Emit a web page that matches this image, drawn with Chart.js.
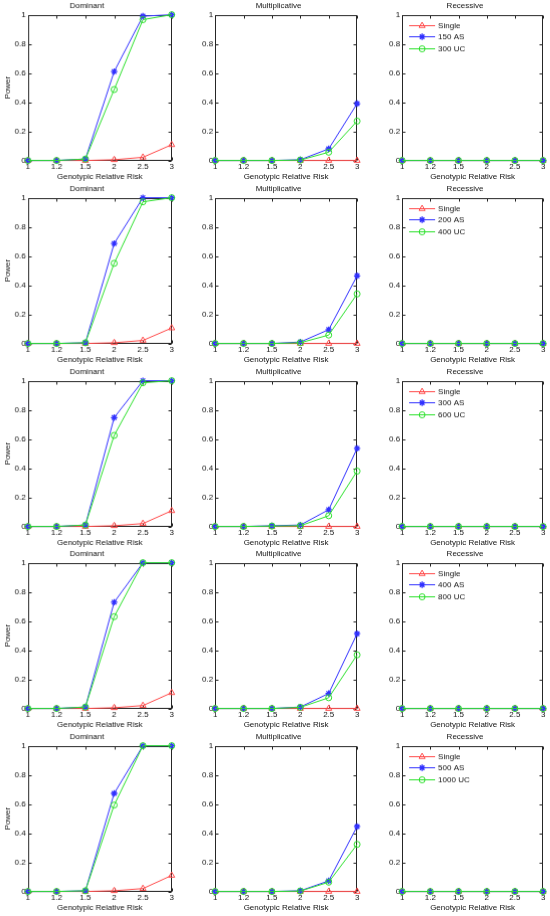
<!DOCTYPE html>
<html><head><meta charset="utf-8">
<script src="https://cdn.jsdelivr.net/npm/chart.js@4/dist/chart.umd.min.js"></script>
<style>
html,body{margin:0;padding:0;background:#fff;width:550px;height:916px;overflow:hidden;}
#wrap{position:relative;width:550px;height:916px;overflow:hidden;}
#wrap canvas{position:absolute;}
</style></head><body><div id="wrap"></div>
<script>
// ---- data ----
const grr = ['1','1.2','1.5','2','2.5','3'];
const yTicks = ['0','0.2','0.4','0.6','0.8','1'];
const models = ['Dominant','Multiplicative','Recessive'];
const xTitle = 'Genotypic Relative Risk';
const yTitle = 'Power';
const singleLabel = 'Single';
const asLabels = ['150 AS','200 AS','300 AS','400 AS','500 AS'];
const ucLabels = ['300 UC','400 UC','600 UC','800 UC','1000 UC'];

const domSingle = [
  [0,0,0,0.005,0.022,0.108],
  [0,0,0,0.005,0.021,0.106],
  [0,0,0,0.005,0.020,0.108],
  [0,0,0,0.005,0.020,0.108],
  [0,0,0,0.005,0.020,0.110]
];
const domAS = [
  [0,0,0.010,0.610,0.990,1],
  [0,0,0.005,0.686,1,1],
  [0,0,0.010,0.747,1,1],
  [0,0,0.010,0.729,1,1],
  [0,0,0.005,0.673,1,1]
];
const domUC = [
  [0,0,0.010,0.487,0.966,1],
  [0,0,0.005,0.550,0.972,1],
  [0,0,0.010,0.625,0.986,1],
  [0,0,0.010,0.630,1,1],
  [0,0,0.005,0.593,1,1]
];
const mulSingle = [
  [0,0,0,0,0,0],[0,0,0,0,0,0],[0,0,0,0,0,0],[0,0,0,0,0,0],[0,0,0,0,0,0]
];
const mulAS = [
  [0,0,0,0.005,0.080,0.390],
  [0,0,0,0.010,0.095,0.464],
  [0,0,0.005,0.010,0.115,0.536],
  [0,0,0,0.010,0.103,0.513],
  [0,0,0,0.005,0.073,0.446]
];
const mulUC = [
  [0,0,0,0.003,0.057,0.270],
  [0,0,0,0.005,0.058,0.340],
  [0,0,0.003,0.005,0.074,0.380],
  [0,0,0,0.008,0.074,0.368],
  [0,0,0,0.003,0.064,0.323]
];
const recSingle = [
  [0,0,0,0,0,0],[0,0,0,0,0,0],[0,0,0,0,0,0],[0,0,0,0,0,0],[0,0,0,0,0,0]
];
const recAS = [
  [0,0,0,0,0,0],[0,0,0,0,0,0],[0,0,0,0,0,0],[0,0,0,0,0,0],[0,0,0,0,0,0]
];
const recUC = [
  [0,0,0,0,0,0],[0,0,0,0,0,0],[0,0,0,0,0,0],[0,0,0,0,0,0],[0,0,0,0,0,0]
];

// ---- style / layout ----
const FONT = "'Liberation Sans', Arial, Helvetica, sans-serif";
const TXT = '#111111';
const RED = '#ff4a4a', BLUE = '#3030ff', GREEN = '#2ae02a';
const plotLeft = [28, 215, 402], plotW = [143, 142, 141];
const plotTop = [15, 198, 381, 563, 746], plotH = 145;

const boxPlugin = {
  id: 'box',
  beforeDatasetsDraw(chart) {
    const {ctx, chartArea: ca, scales} = chart;
    const x = scales.x, y = scales.y;
    ctx.save();
    ctx.strokeStyle = '#262626'; ctx.lineWidth = 1;
    const L = Math.round(ca.left) + 0.5, R = Math.round(ca.right) - 0.5;
    const T = Math.round(ca.top) + 0.5, B = Math.round(ca.bottom) - 0.5;
    ctx.strokeRect(L, T, R - L, B - T);
    const tl = 3;
    ctx.beginPath();
    x.ticks.forEach((t, i) => {
      const px = Math.round(x.getPixelForTick(i)) + 0.5;
      ctx.moveTo(px, B); ctx.lineTo(px, B - tl);
      ctx.moveTo(px, T); ctx.lineTo(px, T + tl);
    });
    y.ticks.forEach((t, i) => {
      const py = Math.round(y.getPixelForTick(i)) + 0.5;
      ctx.moveTo(L, py); ctx.lineTo(L + tl, py);
      ctx.moveTo(R, py); ctx.lineTo(R - tl, py);
    });
    ctx.stroke();
    ctx.restore();
  }
};

const legendPlugin = {
  id: 'inLegend',
  afterDatasetsDraw(chart, args, opts) {
    if (!opts || !opts.show) return;
    const {ctx, chartArea: ca} = chart;
    ctx.save();
    chart.data.datasets.forEach((d, i) => {
      const yy = Math.round(ca.top + 10 + i * 11.5) + 0.5;
      const x0 = ca.left + 7, x1 = ca.left + 33;
      ctx.strokeStyle = d.borderColor; ctx.lineWidth = 1;
      ctx.beginPath(); ctx.moveTo(x0, yy); ctx.lineTo(x1, yy); ctx.stroke();
      if (Chart.helpers && Chart.helpers.drawPoint) {
        ctx.fillStyle = 'rgba(0,0,0,0)';
        ctx.strokeStyle = d.borderColor;
        ctx.lineWidth = d.pointBorderWidth;
        Chart.helpers.drawPoint(ctx, {pointStyle: d.pointStyle, radius: d.pointRadius, borderWidth: d.pointBorderWidth, rotation: 0}, (x0 + x1) / 2, yy);
      }
      ctx.fillStyle = TXT;
      ctx.font = '8px ' + FONT;
      ctx.textBaseline = 'middle'; ctx.textAlign = 'left';
      ctx.fillText(d.label, x1 + 3, yy);
    });
    ctx.restore();
  }
};

function makeCfg(r, c) {
  const sets = [[domSingle, domAS, domUC], [mulSingle, mulAS, mulUC], [recSingle, recAS, recUC]][c];
  const base = (col) => ({borderWidth: 1, backgroundColor: 'rgba(0,0,0,0)', pointBackgroundColor: 'rgba(0,0,0,0)',
                   pointBorderColor: col, pointBorderWidth: 1, tension: 0, clip: false, borderColor: col});
  const f = {family: FONT, size: 8, weight: 'normal'};
  return {
    type: 'line',
    data: {
      labels: grr,
      datasets: [
        Object.assign(base(RED), {label: singleLabel, data: sets[0][r], pointStyle: 'triangle', pointRadius: 3.5, order: 2}),
        Object.assign(base(BLUE), {label: asLabels[r], data: sets[1][r], pointStyle: 'star', pointRadius: 3.2, pointBorderWidth: 1.3, order: 1}),
        Object.assign(base(GREEN), {label: ucLabels[r], data: sets[2][r], pointStyle: 'circle', pointRadius: 3, order: 0})
      ]
    },
    options: {
      responsive: false, maintainAspectRatio: false, animation: false, devicePixelRatio: 1,
      events: [],
      layout: {padding: {left: 0, right: 8, top: 0, bottom: 2}},
      plugins: {
        legend: {display: false}, tooltip: {enabled: false},
        title: {display: true, text: models[c], color: TXT, font: f, padding: {top: 2, bottom: 4}},
        inLegend: {show: c === 2}
      },
      scales: {
        x: {type: 'category', offset: false, grid: {display: false, drawTicks: false}, border: {display: false},
            ticks: {color: TXT, font: f, padding: 1, maxRotation: 0, autoSkip: false},
            title: {display: true, text: xTitle, color: TXT, font: f, padding: {top: 0, bottom: 0}}},
        y: {min: 0, max: 1, grid: {display: false, drawTicks: false}, border: {display: false},
            ticks: {stepSize: 0.2, color: TXT, font: f, padding: 2, callback: (v, i) => yTicks[i]},
            title: {display: c === 0, text: yTitle, color: TXT, font: f, padding: {top: 1, bottom: 0}}}
      }
    },
    plugins: [boxPlugin, legendPlugin]
  };
}

const wrap = document.getElementById('wrap');
for (let r = 0; r < 5; r++) {
  for (let c = 0; c < 3; c++) {
    const cv = document.createElement('canvas');
    cv.width = 200; cv.height = 190;
    cv.style.width = '200px'; cv.style.height = '190px';
    wrap.appendChild(cv);
    const chart = new Chart(cv, makeCfg(r, c));
    for (let k = 0; k < 4; k++) {
      const ca = chart.chartArea;
      const dw = plotW[c] - (ca.right - ca.left);
      const dh = plotH - (ca.bottom - ca.top);
      if (Math.abs(dw) < 0.05 && Math.abs(dh) < 0.05) break;
      chart.resize(chart.width + dw, chart.height + dh);
    }
    const ca = chart.chartArea;
    cv.style.left = (plotLeft[c] - ca.left) + 'px';
    cv.style.top = (plotTop[r] - ca.top) + 'px';
  }
}
</script>
</body></html>
